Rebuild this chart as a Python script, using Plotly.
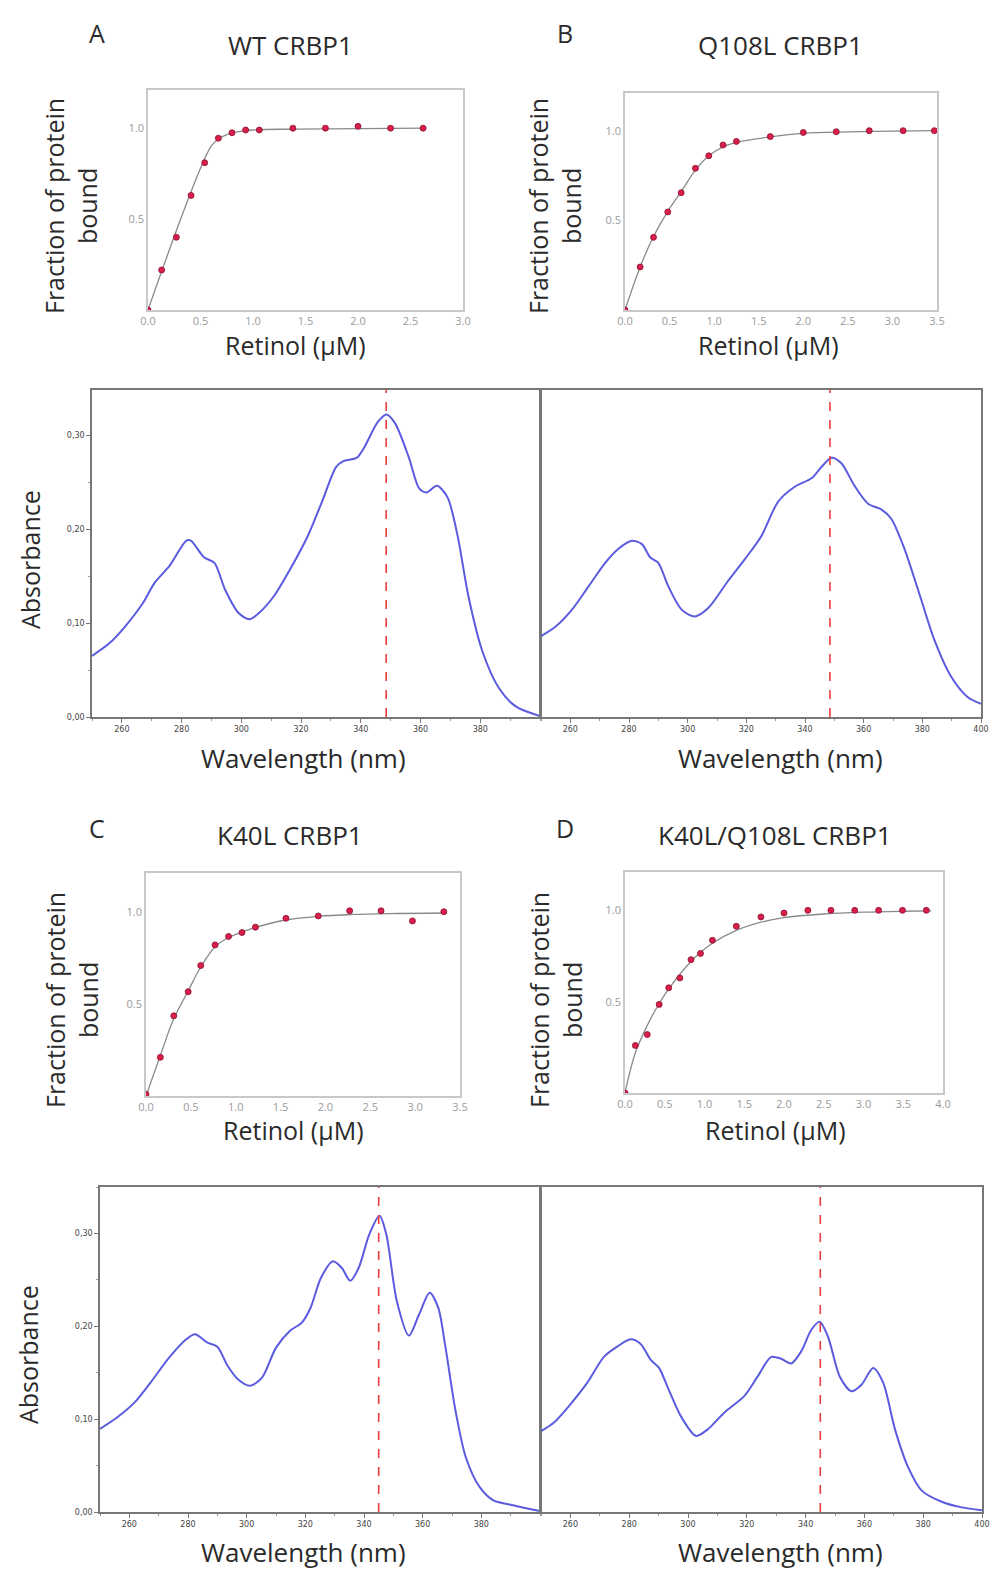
import plotly.graph_objects as go

W, H = 999, 1572

# ---------------- Binding data ----------------
a_x = [0.0, 0.13, 0.27, 0.41, 0.54, 0.67, 0.80, 0.93, 1.06, 1.38, 1.69, 2.0, 2.31, 2.62]
a_y = [0.0, 0.22, 0.40, 0.63, 0.81, 0.945, 0.975, 0.99, 0.99, 1.0, 1.0, 1.01, 1.0, 1.0]
a_fit_x = [0.0, 0.60, 0.67, 0.75, 0.85, 1.0, 1.4, 2.65]
a_fit_y = [0.0, 0.90, 0.94, 0.965, 0.98, 0.99, 0.995, 1.0]

b_x = [0.0, 0.17, 0.32, 0.48, 0.63, 0.79, 0.94, 1.10, 1.25, 1.63, 2.0, 2.37, 2.74, 3.12, 3.47]
b_y = [0.0, 0.24, 0.405, 0.547, 0.654, 0.79, 0.86, 0.92, 0.94, 0.967, 0.99, 0.994, 1.0, 1.0, 1.0]
b_fit_x = [0.0, 0.17, 0.32, 0.48, 0.63, 0.79, 0.94, 1.10, 1.25, 1.63, 2.0, 2.5, 3.0, 3.5]
b_fit_y = [0.0, 0.24, 0.41, 0.55, 0.66, 0.78, 0.86, 0.91, 0.935, 0.965, 0.985, 0.993, 0.997, 1.0]

c_x = [0.0, 0.16, 0.31, 0.47, 0.61, 0.77, 0.92, 1.07, 1.22, 1.56, 1.92, 2.27, 2.62, 2.97, 3.32]
c_y = [0.01, 0.21, 0.435, 0.566, 0.708, 0.82, 0.866, 0.887, 0.916, 0.964, 0.977, 1.005, 1.005, 0.95, 1.0]
c_fit_x = [0.0, 0.16, 0.31, 0.47, 0.61, 0.77, 0.92, 1.07, 1.22, 1.56, 1.92, 2.3, 2.7, 3.35]
c_fit_y = [0.0, 0.22, 0.42, 0.57, 0.70, 0.81, 0.86, 0.89, 0.915, 0.955, 0.975, 0.985, 0.99, 0.993]

d_x = [0.0, 0.13, 0.28, 0.43, 0.55, 0.69, 0.83, 0.95, 1.10, 1.40, 1.71, 2.0, 2.30, 2.59, 2.89, 3.19, 3.49, 3.79]
d_y = [0.0, 0.26, 0.32, 0.485, 0.576, 0.63, 0.73, 0.764, 0.836, 0.913, 0.964, 0.985, 1.0, 1.0, 1.0, 1.0, 1.0, 1.0]
d_fit_x = [0.0, 0.13, 0.28, 0.43, 0.55, 0.69, 0.83, 0.95, 1.10, 1.40, 1.71, 2.0, 2.5, 3.0, 3.5, 3.85]
d_fit_y = [0.0, 0.22, 0.37, 0.49, 0.57, 0.65, 0.72, 0.77, 0.82, 0.89, 0.935, 0.96, 0.98, 0.99, 0.995, 0.997]

# ---------------- Spectra data ----------------
wt_nm = [250, 256, 261, 267, 271, 276, 281.5, 283, 287.5, 291, 294.5, 299, 302.7, 306, 311, 317, 322, 327,
         331.7, 334, 338.7, 341, 345.7, 348.6, 351.5, 356, 359.6, 362, 365.5, 369, 372.4, 376, 380.7, 386.4, 392, 400]
wt_abs = [0.065, 0.079, 0.096, 0.121, 0.143, 0.161, 0.1875, 0.188, 0.17, 0.164, 0.136, 0.111, 0.104, 0.111, 0.129,
          0.161, 0.191, 0.229, 0.266, 0.272, 0.276, 0.286, 0.314, 0.322, 0.3125, 0.277, 0.243, 0.239, 0.246, 0.234,
          0.193, 0.129, 0.070, 0.030, 0.011, 0.001]

q_nm = [250, 254.9, 260.5, 266.2, 271.9, 276.4, 281, 284.4, 287.2, 290, 293.4, 298, 302.5, 307, 313.8, 319.5,
        325.2, 330.8, 336.5, 342.2, 345.6, 349, 352.4, 356.9, 361.5, 366, 369.4, 373.9, 379.6, 384.1, 389.8, 395.5, 400]
q_abs = [0.086, 0.096, 0.114, 0.139, 0.164, 0.179, 0.1875, 0.184, 0.170, 0.164, 0.139, 0.114, 0.107, 0.116, 0.145,
         0.168, 0.193, 0.229, 0.245, 0.254, 0.266, 0.276, 0.27, 0.246, 0.227, 0.221, 0.211, 0.179, 0.125, 0.082,
         0.043, 0.021, 0.014]

k_nm = [250, 255.9, 261.8, 267.6, 273.5, 279.4, 282.4, 286.5, 290, 293.5, 297, 301.2, 305.3, 310, 314.7, 318.8,
        321.8, 325.3, 329.4, 332.4, 335.3, 338.2, 341.8, 345.3, 347.6, 351.2, 355.3, 358.8, 362.4, 365.3, 367.6,
        371.2, 374.7, 379.4, 384.1, 391.2, 400]
k_abs = [0.0895, 0.102, 0.118, 0.141, 0.166, 0.186, 0.1915, 0.1826, 0.178, 0.1575, 0.143, 0.136, 0.145, 0.177,
         0.195, 0.204, 0.22, 0.252, 0.27, 0.263, 0.249, 0.263, 0.299, 0.319, 0.299, 0.227, 0.19, 0.213, 0.236,
         0.22, 0.181, 0.109, 0.059, 0.027, 0.0125, 0.007, 0.001]

kq_nm = [250, 254.3, 260, 265.7, 271.4, 275.9, 280.5, 283.9, 287.3, 290.2, 293, 297.6, 302.7, 306.7, 312.3, 319.2,
         323.7, 328.3, 331.7, 335.1, 338.5, 341.9, 344.8, 347.6, 351.6, 355.6, 359, 363, 366.4, 370.4, 374.9,
         379.5, 386.3, 393.1, 400]
kq_abs = [0.087, 0.096, 0.116, 0.139, 0.167, 0.178, 0.186, 0.181, 0.164, 0.155, 0.135, 0.103, 0.082, 0.089, 0.107,
          0.125, 0.146, 0.167, 0.165, 0.16, 0.173, 0.196, 0.205, 0.189, 0.146, 0.13, 0.137, 0.155, 0.139, 0.089,
          0.048, 0.023, 0.011, 0.005, 0.002]

lambda_top = 348.5
lambda_bottom = 345

titles = ["WT CRBP1", "Q108L CRBP1", "K40L CRBP1", "K40L/Q108L CRBP1"]
letters = ["A", "B", "C", "D"]
abs_ticks = [0.0, 0.1, 0.2, 0.3]
abs_ticktext = ["0,00", "0,10", "0,20", "0,30"]
nm_ticks_left = [260, 280, 300, 320, 340, 360, 380]
nm_ticks_right = [260, 280, 300, 320, 340, 360, 380, 400]

FONT = "Open Sans"
MARK = "#d81e4a"
FITC = "#8a8a8a"
BLUE = "#5b5be0"
RED = "#ee3b3b"
LABEL = "#2a2a2a"


def dx(px0, px1):
    return [px0 / W, px1 / W]


def dy(top, bottom):
    return [1 - bottom / H, 1 - top / H]


def ann(text, px, py, size, angle=0):
    return dict(text=text, x=px / W, y=1 - py / H, xref="paper", yref="paper", showarrow=False,
                xanchor="center", yanchor="middle", textangle=angle,
                font=dict(size=size, color=LABEL, family=FONT))


fig = go.Figure()
layout = dict(width=W, height=H, margin=dict(l=0, r=0, t=0, b=0, autoexpand=False),
              paper_bgcolor="white", plot_bgcolor="white", showlegend=False,
              font=dict(family=FONT, color=LABEL))

annotations = []

# ---------- binding panels ----------
binding = [
    (a_x, a_y, a_fit_x, a_fit_y, 3.0, (148, 463, 90, 310), (295, 345), (71, 206)),
    (b_x, b_y, b_fit_x, b_fit_y, 3.5, (625, 937, 93, 310), (768, 345), (555, 206)),
    (c_x, c_y, c_fit_x, c_fit_y, 3.5, (146, 460, 873, 1096), (293, 1130), (71, 1000)),
    (d_x, d_y, d_fit_x, d_fit_y, 4.0, (625, 943, 872, 1093), (775, 1130), (555, 1000)),
]
for i, (xs, ys, fx, fy, xmax, box, xt, yt) in enumerate(binding):
    n = i + 1
    xa = "x" if n == 1 else f"x{n}"
    ya = "y" if n == 1 else f"y{n}"
    fig.add_trace(go.Scatter(x=fx, y=fy, mode="lines", line=dict(color=FITC, width=1.3, shape="spline"),
                             xaxis=xa, yaxis=ya, hoverinfo="skip"))
    fig.add_trace(go.Scatter(x=xs, y=ys, mode="markers",
                             marker=dict(color=MARK, size=6, line=dict(color="#8a1030", width=0.8)),
                             xaxis=xa, yaxis=ya))
    x0, x1, y0, y1 = box
    xticks = [k * 0.5 for k in range(int(round(xmax / 0.5)) + 1)]
    layout[f"xaxis{'' if n == 1 else n}"] = dict(
        domain=dx(x0, x1), anchor=ya, range=[0, xmax], tickvals=xticks, automargin=False,
        ticktext=[f"{v:.1f}" for v in xticks], tickfont=dict(size=11, color="#9a9a9a", family=FONT),
        showline=True, mirror=True, linecolor="#c8c8c8", linewidth=1.5, showgrid=False, zeroline=False,
        ticks="", ticklen=0)
    layout[f"yaxis{'' if n == 1 else n}"] = dict(
        domain=dy(y0, y1), anchor=xa, range=[0, 1.21], tickvals=[0.5, 1.0], ticktext=["0.5", "1.0"],
        tickfont=dict(size=11, color="#9a9a9a", family=FONT), automargin=False,
        showline=True, mirror=True, linecolor="#c8c8c8", linewidth=1.5, showgrid=False, zeroline=False,
        ticks="", ticklen=0)
    annotations.append(ann("Retinol (µM)", xt[0], xt[1], 25))
    annotations.append(ann("Fraction of protein<br>bound", yt[0], yt[1], 25, -90))

# titles and letters
title_pos = [(290, 45, 97, 33), (780, 45, 565, 33), (290, 835, 97, 828), (775, 835, 565, 828)]
for t, l, (tx, ty, lx, ly) in zip(titles, letters, title_pos):
    annotations.append(ann(t, tx, ty, 26))
    annotations.append(ann(l, lx, ly, 25))

# ---------- spectra panels ----------
spectra = [
    (wt_nm, wt_abs, lambda_top, (92, 540, 390, 717), True, 0.348, (303, 758), (30, 560)),
    (q_nm, q_abs, lambda_top, (541, 981, 390, 717), False, 0.348, (780, 758), None),
    (k_nm, k_abs, lambda_bottom, (100, 540, 1187, 1512), True, 0.35, (303, 1552), (28, 1355)),
    (kq_nm, kq_abs, lambda_bottom, (541, 982, 1187, 1512), False, 0.35, (780, 1552), None),
]
for j, (nm, ab, lam, box, left, ymax, xt, yt) in enumerate(spectra):
    n = j + 5
    xa, ya = f"x{n}", f"y{n}"
    fig.add_trace(go.Scatter(x=nm, y=ab, mode="lines", line=dict(color=BLUE, width=2, shape="spline", smoothing=0.8),
                             xaxis=xa, yaxis=ya))
    fig.add_trace(go.Scatter(x=[lam, lam], y=[0, ymax], mode="lines", line=dict(color=RED, width=1.6, dash="dash"),
                             xaxis=xa, yaxis=ya))
    x0, x1, y0, y1 = box
    tv = nm_ticks_left if left else nm_ticks_right
    layout[f"xaxis{n}"] = dict(
        domain=dx(x0, x1), anchor=ya, range=[250, 400], tickvals=tv, ticktext=[str(v) for v in tv],
        tickfont=dict(size=8, color="#444444", family="DejaVu Sans"), automargin=False,
        showline=True, mirror=True, linecolor="#777777", linewidth=1.5, showgrid=False, zeroline=False,
        ticks="outside", ticklen=4, tickcolor="#777777",
        minor=dict(dtick=10, tick0=250, ticks="outside", ticklen=2, tickcolor="#999999"))
    ydict = dict(
        domain=dy(y0, y1), anchor=xa, range=[0, ymax], showgrid=False, zeroline=False, automargin=False,
        showline=True, mirror=True, linecolor="#777777", linewidth=1.5)
    if left:
        ydict.update(tickvals=abs_ticks, ticktext=abs_ticktext,
                     tickfont=dict(size=8, color="#444444", family="DejaVu Sans"),
                     ticks="outside", ticklen=4, tickcolor="#777777",
                     minor=dict(dtick=0.05, ticks="outside", ticklen=2, tickcolor="#999999"))
        annotations.append(ann("Absorbance", yt[0], yt[1], 25, -90))
    else:
        ydict.update(showticklabels=False, ticks="")
    layout[f"yaxis{n}"] = ydict
    annotations.append(ann("Wavelength (nm)", xt[0], xt[1], 26))

layout["annotations"] = annotations
fig.update_layout(**layout)
fig.write_html("out.html", config={"displayModeBar": False},
               post_script="document.body.style.margin='0px';")
